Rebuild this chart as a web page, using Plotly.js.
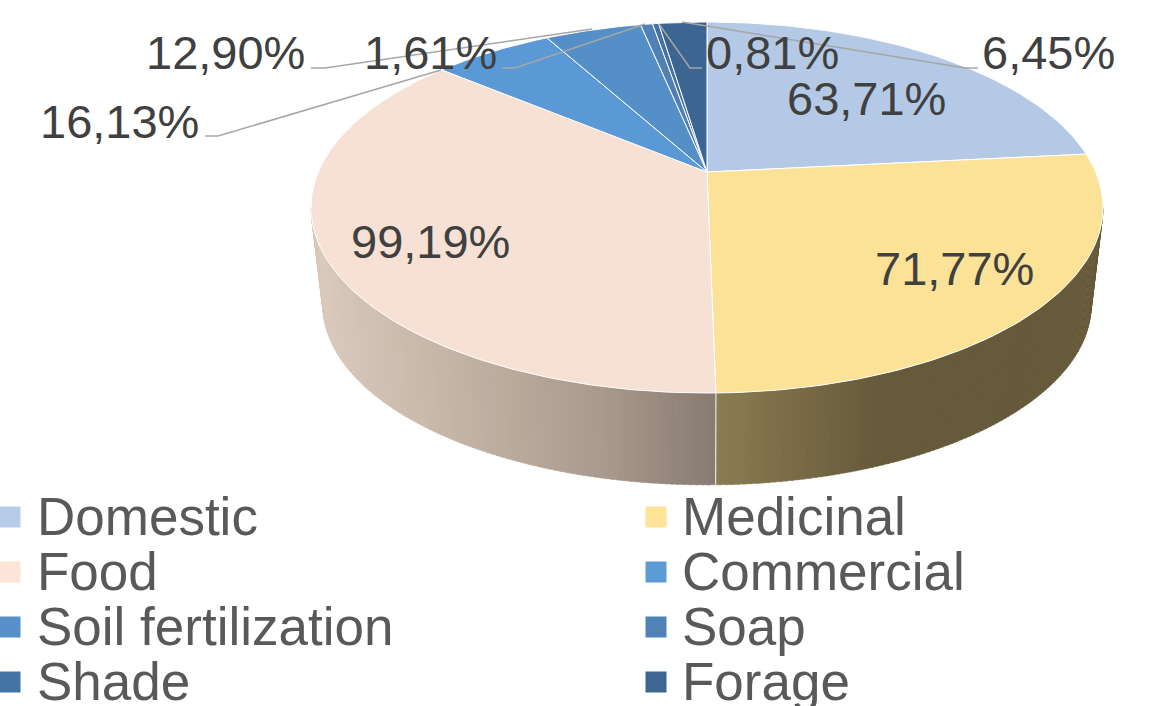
<!DOCTYPE html>
<html>
<head>
<meta charset="utf-8">
<script src="https://cdn.plot.ly/plotly-3.0.1.min.js"></script>
<style>html,body{margin:0;padding:0;background:#fff;overflow:hidden}#chart{width:1160px;height:706px}</style>
</head>
<body>
<div id="chart"></div>
<script>
const categories = ["Domestic","Medicinal","Food","Commercial","Soil fertilization","Soap","Shade","Forage"];
const values = [63.71,71.77,99.19,16.13,12.90,1.61,0.81,6.45];
const sliceColors = ["#B4C9E5","#FBE296","#F6E1D4","#5B99D6","#548FC8","#4F81B5","#4472A4","#3C6591"];
const swatchColors = ["#B6CCE8","#FDE497","#FBE5D8","#5B9BD5","#5590C8","#4F83B7","#4474A6","#3D6793"];
const labelX = [866,954,430,119,225,430,772,1048];
const labelY = [98,268,241,121,52,52,52,52];
const legendRowY = [516,571,626,681];
const leaderX = [[978,965,682],[205,218,441],[311,325,592],[502,515,645],[702,690,659]];
const leaderY = [[68,68,22],[136,136,70],[68,68,29],[68,68,24],[68,68,24]];

// projection of the tilted disc onto the axes (axis units are pixels)
const cx=707, cy=172, a=388.7, b=178.7, k=0.1914, dropY=98.5, dropS=0.97;
function topPt(th){const u=Math.sin(th),v=Math.cos(th),w=1+k*v;return [cx+a*u/w,cy-b*v/w];}
function botPt(th){const u=Math.sin(th),v=Math.cos(th),w=1+k*v;return [cx+dropS*a*u/w,cy+dropY-dropS*b*v/w];}
const total=values.reduce((s,v)=>s+v,0);
const rad=d=>d*Math.PI/180;
const edges=[0]; values.forEach(v=>edges.push(edges[edges.length-1]+v/total*360));

function lerpStops(stops,x){
  if(x<=stops[0][0])return stops[0][1];
  for(let i=1;i<stops.length;i++){
    if(x<=stops[i][0]){
      const t=(x-stops[i-1][0])/(stops[i][0]-stops[i-1][0]);
      return stops[i-1][1].map((c0,j)=>Math.round(c0+(stops[i][1][j]-c0)*t));
    }
  }
  return stops[stops.length-1][1];
}
const foodShade=[[322,[216,200,187]],[450,[196,180,166]],[600,[169,154,141]],[716,[135,122,113]]];
const medShade=[[716,[139,124,82]],[880,[102,90,58]],[1100,[102,90,58]]];

const traces=[];
const noHover={hoverinfo:"skip",showlegend:false,type:"scatter",mode:"lines"};
function wall(from,to,shade){
  const step=0.75;
  for(let d=from;d<to;d+=step){
    const e=Math.min(d+step+0.2,to);
    const p=[topPt(rad(d)),topPt(rad(e)),botPt(rad(e)),botPt(rad(d)),topPt(rad(d))];
    const mid=(p[0][0]+p[1][0])/2;
    const c=lerpStops(shade,mid);
    const col=`rgb(${c[0]},${c[1]},${c[2]})`;
    traces.push(Object.assign({},noHover,{x:p.map(q=>q[0]),y:p.map(q=>q[1]),fill:"toself",fillcolor:col,line:{color:col,width:0.5}}));
  }
}
const tangent=Math.acos(-k)*180/Math.PI;
wall(tangent,edges[2],medShade);
wall(edges[2],360-tangent,foodShade);
const seamT=topPt(rad(edges[2])),seamB=botPt(rad(edges[2]));
traces.push(Object.assign({},noHover,{x:[seamT[0],seamB[0]],y:[seamT[1],seamB[1]],line:{color:"#E8E4E0",width:1.2}}));

// top face
categories.forEach((name,i)=>{
  const xs=[cx],ys=[cy];
  const n=Math.max(2,Math.ceil((edges[i+1]-edges[i])/1));
  for(let j=0;j<=n;j++){
    const p=topPt(rad(edges[i]+(edges[i+1]-edges[i])*j/n));
    xs.push(p[0]);ys.push(p[1]);
  }
  xs.push(cx);ys.push(cy);
  traces.push({type:"scatter",mode:"lines",name,x:xs,y:ys,fill:"toself",fillcolor:sliceColors[i],
    line:{color:"#FFFFFF",width:1},hoverinfo:"name",showlegend:false});
});

// leader lines
leaderX.forEach((lx,i)=>{
  traces.push(Object.assign({},noHover,{x:lx,y:leaderY[i],line:{color:"#A6A6A6",width:1.5}}));
});

// legend swatches
traces.push({type:"scatter",mode:"markers",hoverinfo:"skip",showlegend:false,cliponaxis:false,
  x:categories.map((_,i)=>i%2?656:10),
  y:categories.map((_,i)=>legendRowY[Math.floor(i/2)]+1),
  marker:{symbol:"square",size:21,color:swatchColors,line:{width:0}}});

const annotations=[];
values.forEach((v,i)=>annotations.push({xref:"x",yref:"y",x:labelX[i],y:labelY[i],showarrow:false,
  xanchor:"center",yanchor:"middle",text:v.toFixed(2).replace(".",",")+"%",
  font:{family:"Liberation Sans, Arial, sans-serif",size:47,color:"#404040"}}));
categories.forEach((c,i)=>annotations.push({xref:"x",yref:"y",x:i%2?680:35,y:legendRowY[Math.floor(i/2)],showarrow:false,
  xanchor:"left",yanchor:"middle",text:c,
  font:{family:"Liberation Sans, Arial, sans-serif",size:53,color:"#595959"}}));

Plotly.newPlot("chart",traces,{
  width:1160,height:706,margin:{l:0,r:0,t:0,b:0},
  paper_bgcolor:"#FFFFFF",plot_bgcolor:"#FFFFFF",showlegend:false,
  xaxis:{range:[0,1160],visible:false,fixedrange:true},
  yaxis:{range:[706,0],visible:false,fixedrange:true},
  annotations
},{displayModeBar:false,staticPlot:true});
</script>
</body>
</html>
